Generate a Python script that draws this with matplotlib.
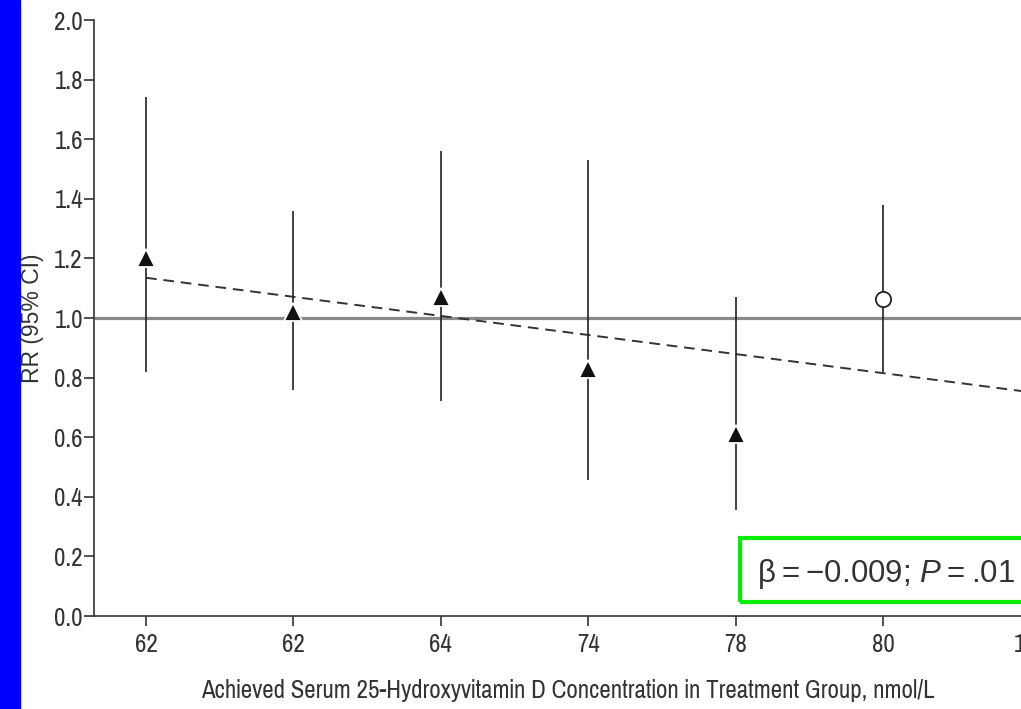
import matplotlib
matplotlib.use("Agg")
import matplotlib.pyplot as plt
from matplotlib.patches import Rectangle

plt.rcParams.update({
    "font.family": ["Pragati Narrow", "Roboto Condensed", "DejaVu Sans"],
    "font.size": 19.5,
    "mathtext.fontset": "custom",
    "mathtext.rm": "Liberation Sans",
    "mathtext.it": "Liberation Sans:italic",
})

# achieved 25(OH)D per trial, treatment-group RR with 95% CI
tick_labels = ["62", "62", "64", "74", "78", "80", "100"]
rr = [1.20, 1.02, 1.07, 0.83, 0.61, 1.065]
ci_low = [0.82, 0.76, 0.72, 0.455, 0.355, 0.82]
ci_high = [1.74, 1.36, 1.56, 1.53, 1.07, 1.38]
open_marker = [False, False, False, False, False, True]

# meta-regression line
trend_pos = [0, 6]
trend_rr = [1.135, 0.751]

TXT = "#333333"

fig = plt.figure(figsize=(10.21, 7.09), dpi=100)
fig.patches.append(Rectangle((0, 0), 20 / 1021, 1, transform=fig.transFigure,
                             color="#0000ff", zorder=0))

ax = fig.add_axes([94 / 1021, 93 / 709, (1100 - 94) / 1021, 596 / 709])
pos = list(range(len(rr)))

ax.axhline(1.0, color="#8a8a8a", lw=2.3, zorder=1)
ax.plot(trend_pos, trend_rr, color=TXT, lw=1.4, dashes=(5.5, 3.5), zorder=2)
ax.vlines(pos, ci_low, ci_high, color="#222222", lw=1.2, zorder=3)

for p, v, is_open in zip(pos, rr, open_marker):
    if is_open:
        ax.plot(p, v, marker="o", ms=11, mfc="white", mec="#222222", mew=1.3, zorder=4)
    else:
        ax.plot(p, v, marker="^", ms=13, mfc="#111111", mec="white", mew=1.3, zorder=4)

ax.set_xlim(-0.353, 6.472)
ax.set_ylim(0, 2.0)
ax.set_xticks(range(len(tick_labels)))
ax.set_xticklabels(tick_labels)
ax.set_yticks([i / 5 for i in range(11)])
ax.set_yticklabels([f"{i / 5:.1f}" for i in range(11)])

for s in ("top", "right"):
    ax.spines[s].set_visible(False)
for s in ("left", "bottom"):
    ax.spines[s].set_color(TXT)
    ax.spines[s].set_linewidth(1.2)
ax.tick_params(colors=TXT, labelcolor=TXT, length=7, width=1.2, labelsize=19.5)
ax.tick_params(axis="x", pad=5)
ax.tick_params(axis="y", pad=1)

fig.text(33 / 1021, 1 - 318 / 709, "RR (95% CI)", rotation=90, family="Liberation Sans",
         ha="center", va="center", color=TXT, fontsize=16.5)
fig.text(568 / 1021, 1 - 690 / 709,
         "Achieved Serum 25-Hydroxyvitamin D Concentration in Treatment Group, nmol/L",
         ha="center", va="center", color=TXT, fontsize=19.5)

# highlighted regression result
fig.patches.append(Rectangle((740 / 1021, 1 - 602 / 709), 300 / 1021, 64 / 709,
                             transform=fig.transFigure, fill=False,
                             edgecolor="#00ee00", lw=3, zorder=5))
fig.text(757 / 1021, 1 - 574 / 709, "β\u2009=\u2009−0.009; $P$\u2009=\u2009.01",
         family="Liberation Sans", fontsize=22.5, color=TXT, va="center", ha="left")

fig.savefig("out.png", dpi=100)
